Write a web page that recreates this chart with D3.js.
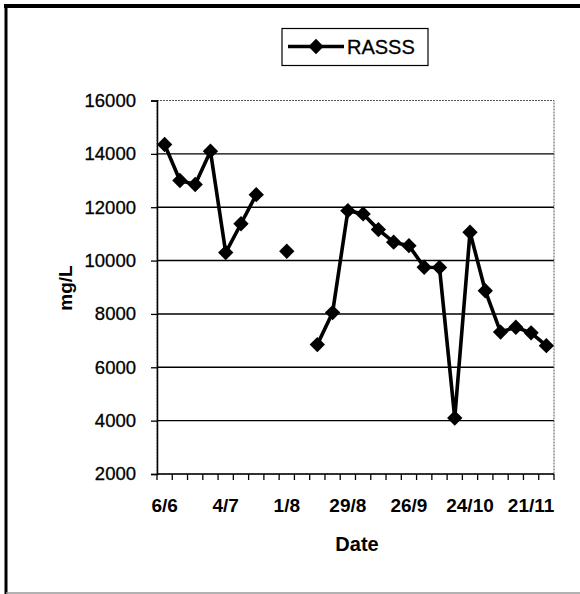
<!DOCTYPE html>
<html><head><meta charset="utf-8">
<script src="https://cdn.jsdelivr.net/npm/d3@7"></script>
<style>body{margin:0;background:#fff}svg{display:block}text{font-family:"Liberation Sans",Arial,sans-serif;fill:#000}</style>
</head><body>
<script>
const dates = ["6/6","13/6","20/6","27/6","4/7","11/7","18/7","25/7","1/8","8/8","15/8","22/8","29/8","5/9","12/9","19/9","26/9","3/10","10/10","17/10","24/10","31/10","7/11","14/11","21/11","28/11"];
const rasss = [14350,13000,12850,14100,10300,11380,12470,null,10350,null,6850,8050,11870,11750,11160,10690,10560,9750,9740,4100,11060,8870,7320,7500,7290,6810];
const yTicks = [2000,4000,6000,8000,10000,12000,14000,16000];
const xLabelDates = ["6/6","4/7","1/8","29/8","26/9","24/10","21/11"];
const seriesName = "RASSS";

const W=580,H=594;
const svg=d3.select("body").append("svg").attr("width",W).attr("height",H);
const L=157,R=554,T=100.5,B=474;
const x=d3.scaleBand().domain(dates).range([L,R]).padding(0);
const y=d3.scaleLinear().domain([2000,16000]).range([B,T]);

// outer frame
svg.append("line").attr("x1",6).attr("x2",6).attr("y1",4).attr("y2",594).attr("stroke","#000").attr("stroke-width",3);
svg.append("line").attr("x1",4).attr("x2",580).attr("y1",6).attr("y2",6).attr("stroke","#000").attr("stroke-width",4);
svg.append("line").attr("x1",6).attr("x2",580).attr("y1",593).attr("y2",593).attr("stroke","#999").attr("stroke-width",1.5);

// gridlines
svg.append("g").selectAll("line").data(yTicks.filter(d=>d>2000&&d<16000)).join("line")
  .attr("x1",L).attr("x2",R).attr("y1",d=>y(d)).attr("y2",d=>y(d))
  .attr("stroke","#000").attr("stroke-width",1.4);
// plot border
svg.append("rect").attr("x",L).attr("y",T).attr("width",R-L).attr("height",B-T)
  .attr("fill","none").attr("stroke","#555").attr("stroke-width",1).attr("stroke-dasharray","2,1");

// y axis
const ya=svg.append("g").attr("transform",`translate(${L},0)`)
  .call(d3.axisLeft(y).tickValues(yTicks).tickSize(6).tickPadding(15).tickFormat(d3.format("d")));
ya.select(".domain").attr("stroke","#000").attr("stroke-width",1.5);
ya.selectAll(".tick line").attr("stroke","#000").attr("stroke-width",1.3);
ya.selectAll("text").attr("font-size",18.5).attr("font-family","Liberation Sans, Arial, sans-serif").attr("fill","#000")
  .attr("stroke","#000").attr("stroke-width",0.3);

// x axis
const xa=svg.append("g").attr("transform",`translate(0,${B})`);
xa.append("line").attr("x1",L).attr("x2",R).attr("stroke","#000").attr("stroke-width",1.5);
xa.selectAll("line.tk").data(d3.range(dates.length+1)).join("line").attr("class","tk")
  .attr("x1",i=>L+i*x.bandwidth()).attr("x2",i=>L+i*x.bandwidth()).attr("y1",0).attr("y2",6)
  .attr("stroke","#000").attr("stroke-width",1.3);
xa.selectAll("text").data(xLabelDates).join("text")
  .attr("x",d=>x(d)+x.bandwidth()/2).attr("y",38).attr("text-anchor","middle")
  .attr("font-size",19).attr("font-weight","bold").text(d=>d);

// axis titles
svg.append("text").attr("x",357).attr("y",551).attr("text-anchor","middle").attr("font-size",20).attr("font-weight","bold").text("Date");
svg.append("text").attr("transform","translate(72,288) rotate(-90)").attr("text-anchor","middle").attr("font-size",19).attr("font-weight","bold").text("mg/L");

// series
const pts=dates.map((d,i)=>({d,v:rasss[i]}));
const line=d3.line().defined(p=>p.v!=null).x(p=>x(p.d)+x.bandwidth()/2).y(p=>y(p.v));
svg.append("path").datum(pts).attr("d",line).attr("fill","none").attr("stroke","#000").attr("stroke-width",3.6).attr("stroke-linejoin","round");
const diamond=d3.symbol().type(d3.symbolDiamond2).size(150);
svg.append("g").selectAll("path").data(pts.filter(p=>p.v!=null)).join("path")
  .attr("transform",p=>`translate(${x(p.d)+x.bandwidth()/2},${y(p.v)})`).attr("d",diamond).attr("fill","#000");

// legend
const lg=svg.append("g");
lg.append("rect").attr("x",282).attr("y",28.5).attr("width",146).attr("height",37).attr("fill","#fff").attr("stroke","#000").attr("stroke-width",1.2);
lg.append("line").attr("x1",288).attr("x2",344).attr("y1",46.5).attr("y2",46.5).attr("stroke","#000").attr("stroke-width",3.6);
lg.append("path").attr("transform","translate(316,46.5)").attr("d",diamond).attr("fill","#000");
lg.append("text").attr("x",347).attr("y",54).attr("font-size",20).attr("stroke","#000").attr("stroke-width",0.3).text(seriesName);
</script>
</body></html>
